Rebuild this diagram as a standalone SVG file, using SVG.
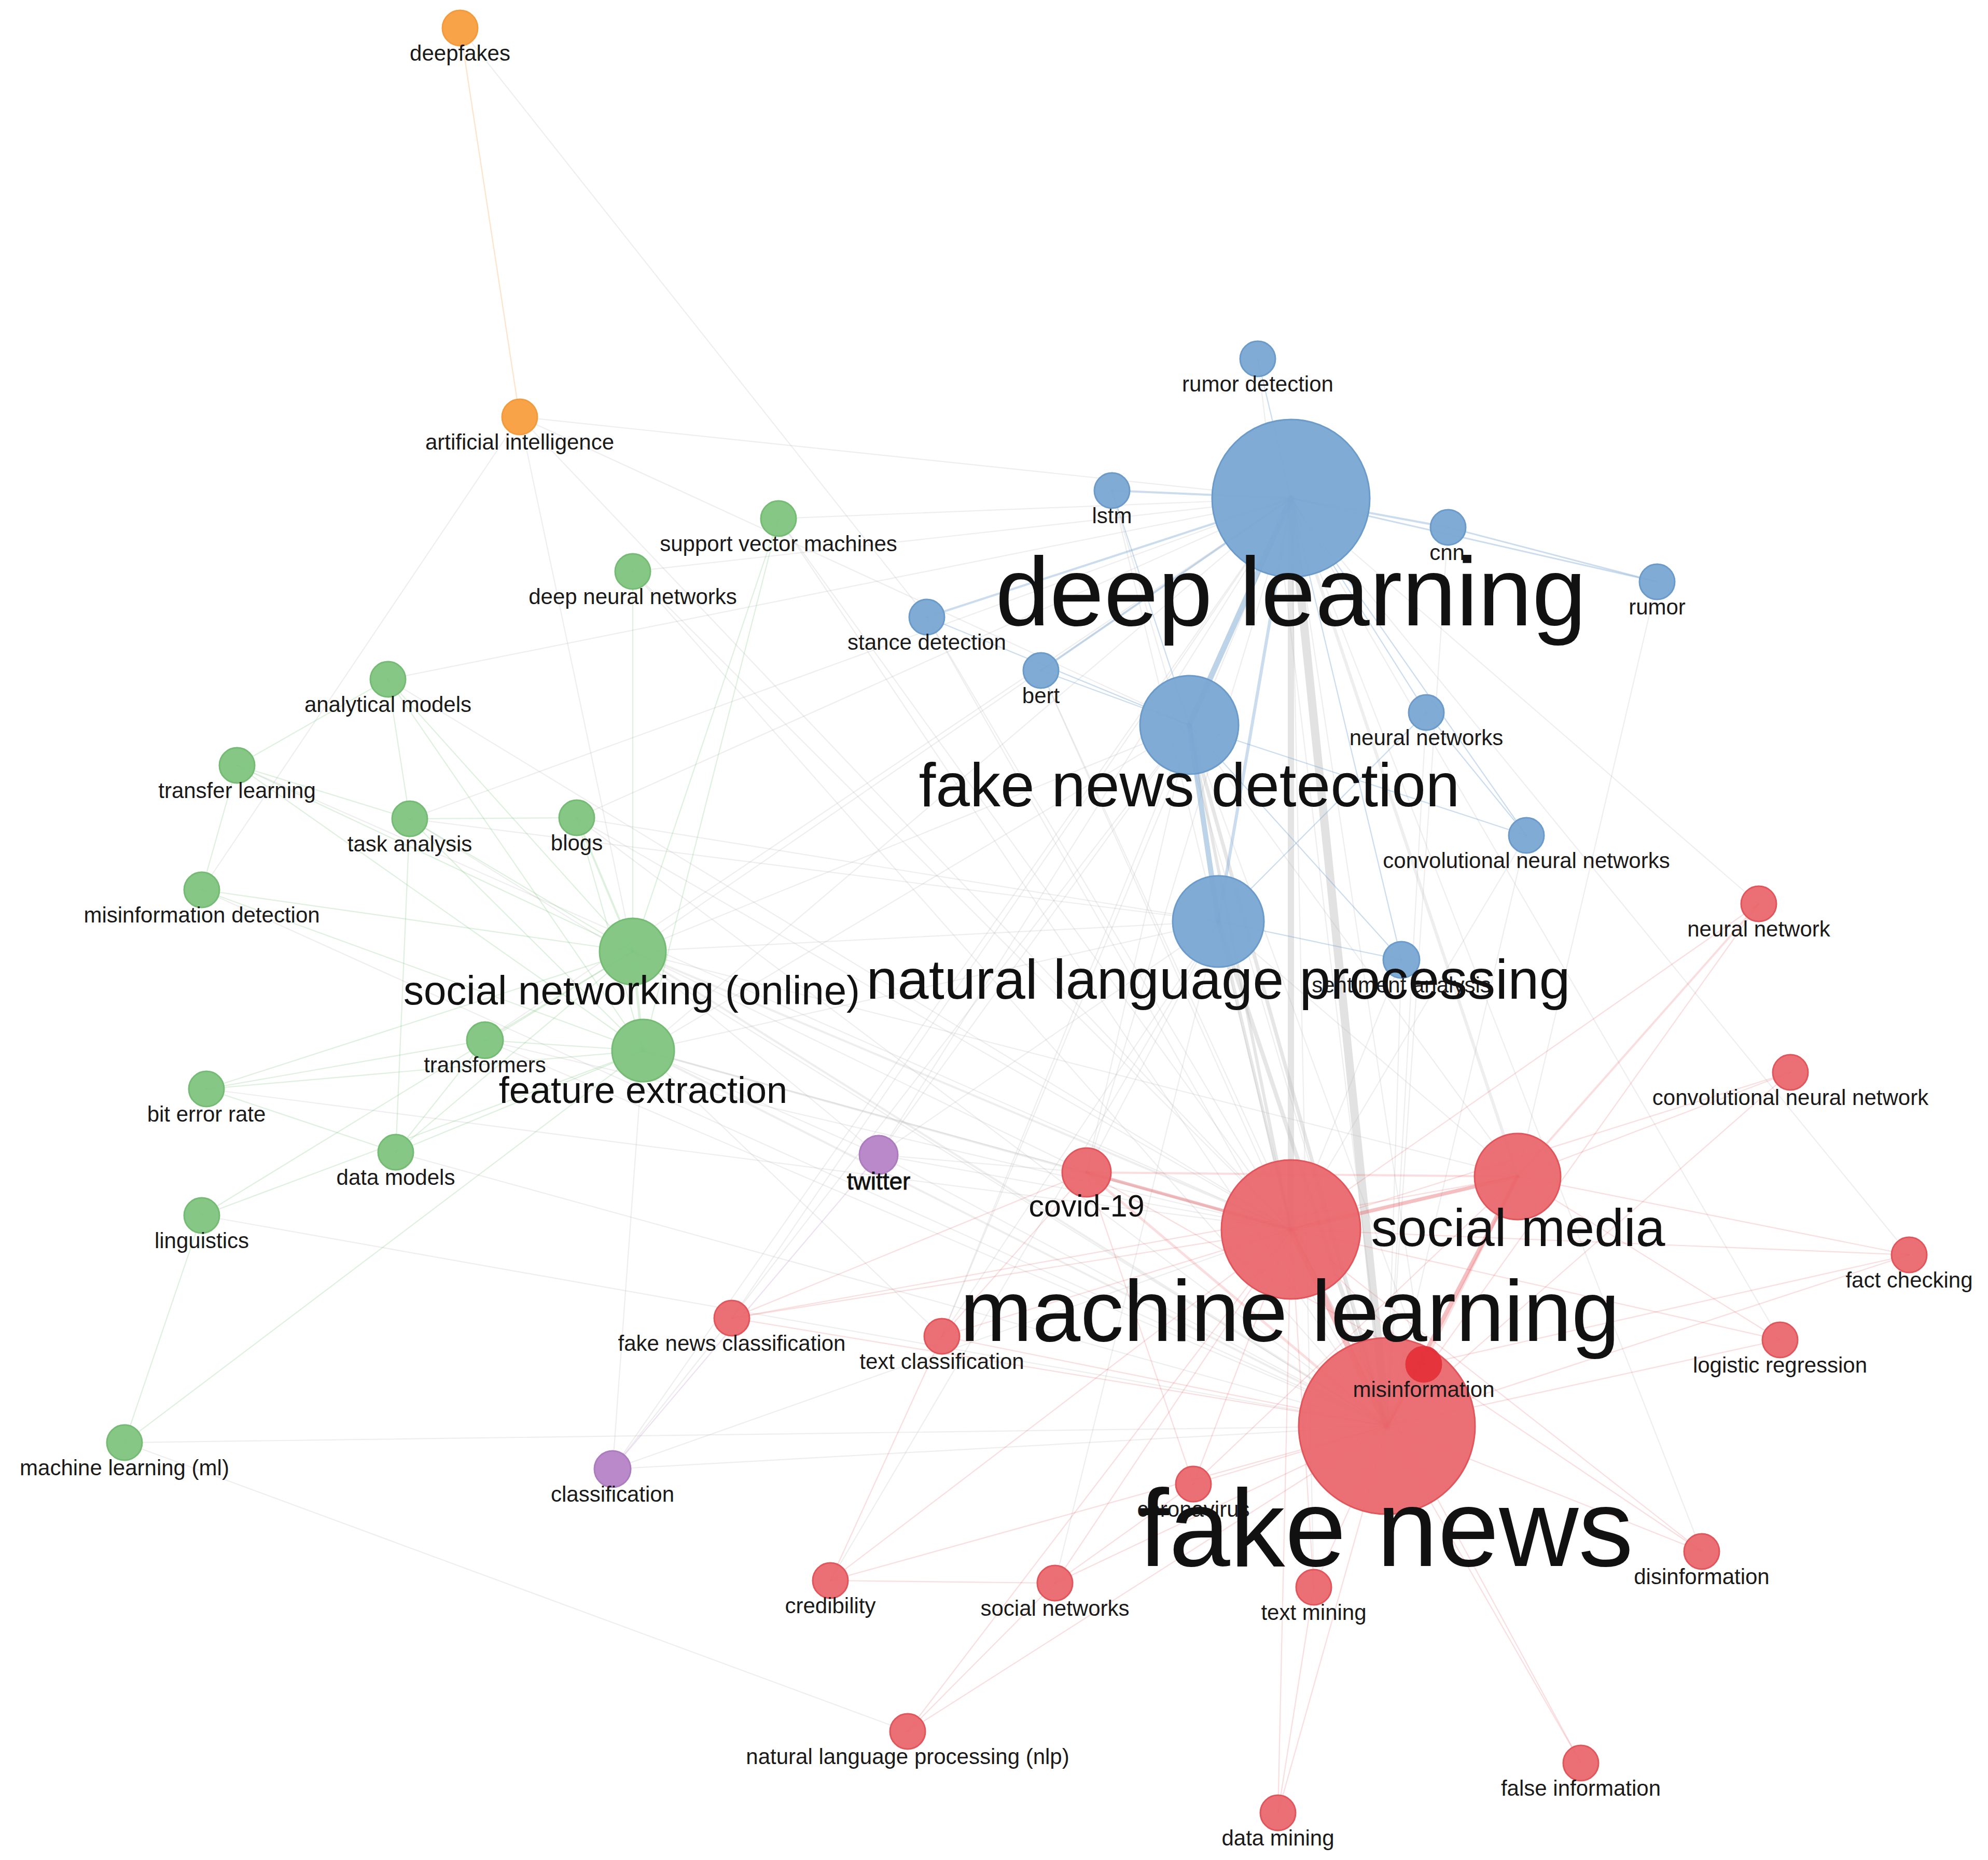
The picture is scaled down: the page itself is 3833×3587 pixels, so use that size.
<svg xmlns="http://www.w3.org/2000/svg" width="3833" height="3587" viewBox="0 0 3833 3587">
<style>
.bg{fill:#ffffff}
.e line{stroke-linecap:round}
.g line{stroke:#b9b9b9;stroke-opacity:.24;stroke-width:2.2}
.r line{stroke:#e8636a;stroke-opacity:.22;stroke-width:2.2}
.b line{stroke:#7aa7d1;stroke-opacity:.4;stroke-width:2.2}
.gr line{stroke:#80c47f;stroke-opacity:.26;stroke-width:2.2}
.o line{stroke:#f9a349;stroke-opacity:.3;stroke-width:2.2}
.p line{stroke:#b989c9;stroke-opacity:.25;stroke-width:2.2}
.nb{fill:#79a6d2;stroke:#6a9bcb;stroke-width:3;fill-opacity:.95}
.nr{fill:#ea656a;stroke:#e2555b;stroke-width:3;fill-opacity:.93}
.ng{fill:#80c47f;stroke:#74bb73;stroke-width:3;fill-opacity:.95}
.no{fill:#f9a349;stroke:#f39a3d;stroke-width:3}
.np{fill:#b989c9;stroke:#ad7bbf;stroke-width:3}
.nm{fill:#e4252e;fill-opacity:.8;stroke:#e2353c;stroke-width:3}
text{font-family:'Liberation Sans',Arial,sans-serif;fill:#111;text-anchor:middle}
.s{font-size:42px;fill:#1a1a1a}
</style>
<rect class="bg" x="0" y="0" width="3833" height="3587"/>
<g id="edges" class="e">
<g class="g">
<line x1="2489" y1="961" x2="1220" y2="1835"/>
<line x1="2489" y1="961" x2="1240" y2="2026"/>
<line x1="2489" y1="961" x2="1002" y2="804"/>
<line x1="2489" y1="961" x2="1501" y2="1000"/>
<line x1="2489" y1="961" x2="1220" y2="1102"/>
<line x1="2489" y1="961" x2="790" y2="1579"/>
<line x1="2489" y1="961" x2="1112" y2="1577"/>
<line x1="2489" y1="961" x2="1694" y2="2227"/>
<line x1="2489" y1="961" x2="2095" y2="2261"/>
<line x1="2489" y1="961" x2="2926" y2="2269" style="stroke-width:6"/>
<line x1="2489" y1="961" x2="1816" y2="2577"/>
<line x1="2489" y1="961" x2="1411" y2="2542"/>
<line x1="2489" y1="961" x2="2745" y2="2631"/>
<line x1="2489" y1="961" x2="2533" y2="3061"/>
<line x1="2489" y1="961" x2="3391" y2="1743"/>
<line x1="2489" y1="961" x2="3681" y2="2420"/>
<line x1="2489" y1="961" x2="3432" y2="2584"/>
<line x1="2489" y1="961" x2="3281" y2="2992"/>
<line x1="2489" y1="961" x2="748" y2="1310"/>
<line x1="2489" y1="961" x2="935" y2="2006"/>
<line x1="2489" y1="961" x2="1181" y2="2833"/>
<line x1="2489" y1="961" x2="2489" y2="2371" style="stroke-width:12;stroke-opacity:.38"/>
<line x1="2489" y1="961" x2="2674" y2="2750" style="stroke-width:16;stroke-opacity:.42"/>
<line x1="2293" y1="1398" x2="1220" y2="1835"/>
<line x1="2293" y1="1398" x2="1240" y2="2026"/>
<line x1="2293" y1="1398" x2="2489" y2="2371" style="stroke-width:6;stroke-opacity:.36"/>
<line x1="2293" y1="1398" x2="2674" y2="2750" style="stroke-width:7;stroke-opacity:.36"/>
<line x1="2293" y1="1398" x2="2926" y2="2269"/>
<line x1="2293" y1="1398" x2="2095" y2="2261"/>
<line x1="2293" y1="1398" x2="1694" y2="2227"/>
<line x1="2293" y1="1398" x2="1002" y2="804"/>
<line x1="2293" y1="1398" x2="2745" y2="2631"/>
<line x1="2293" y1="1398" x2="1816" y2="2577"/>
<line x1="2293" y1="1398" x2="1411" y2="2542"/>
<line x1="2349" y1="1777" x2="1220" y2="1835"/>
<line x1="2349" y1="1777" x2="1240" y2="2026"/>
<line x1="2349" y1="1777" x2="2489" y2="2371" style="stroke-width:6;stroke-opacity:.36"/>
<line x1="2349" y1="1777" x2="2674" y2="2750" style="stroke-width:8;stroke-opacity:.36"/>
<line x1="2349" y1="1777" x2="2926" y2="2269"/>
<line x1="2349" y1="1777" x2="2095" y2="2261"/>
<line x1="2349" y1="1777" x2="1694" y2="2227"/>
<line x1="2349" y1="1777" x2="1816" y2="2577"/>
<line x1="2349" y1="1777" x2="2034" y2="3053"/>
<line x1="2349" y1="1777" x2="1601" y2="3048"/>
<line x1="2349" y1="1777" x2="1112" y2="1577"/>
<line x1="2349" y1="1777" x2="790" y2="1579"/>
<line x1="1220" y1="1835" x2="2489" y2="2371" style="stroke-width:4"/>
<line x1="1220" y1="1835" x2="2674" y2="2750" style="stroke-width:4"/>
<line x1="1220" y1="1835" x2="2926" y2="2269"/>
<line x1="1220" y1="1835" x2="2095" y2="2261"/>
<line x1="1220" y1="1835" x2="1694" y2="2227"/>
<line x1="1240" y1="2026" x2="2489" y2="2371" style="stroke-width:4"/>
<line x1="1240" y1="2026" x2="2674" y2="2750" style="stroke-width:4"/>
<line x1="1240" y1="2026" x2="1181" y2="2833"/>
<line x1="1240" y1="2026" x2="1694" y2="2227"/>
<line x1="1240" y1="2026" x2="2095" y2="2261"/>
<line x1="1240" y1="2026" x2="1816" y2="2577"/>
<line x1="1694" y1="2227" x2="2674" y2="2750"/>
<line x1="1694" y1="2227" x2="2489" y2="2371"/>
<line x1="1694" y1="2227" x2="2095" y2="2261"/>
<line x1="1181" y1="2833" x2="2674" y2="2750"/>
<line x1="1181" y1="2833" x2="2489" y2="2371"/>
<line x1="1181" y1="2833" x2="1411" y2="2542"/>
<line x1="240" y1="2782" x2="2674" y2="2750"/>
<line x1="240" y1="2782" x2="1750" y2="3339"/>
<line x1="1501" y1="1000" x2="2489" y2="2371"/>
<line x1="1501" y1="1000" x2="2674" y2="2750"/>
<line x1="1220" y1="1102" x2="2674" y2="2750"/>
<line x1="1220" y1="1102" x2="2489" y2="2371"/>
<line x1="748" y1="1310" x2="2489" y2="2371"/>
<line x1="1112" y1="1577" x2="2674" y2="2750"/>
<line x1="1112" y1="1577" x2="2489" y2="2371"/>
<line x1="935" y1="2006" x2="2674" y2="2750"/>
<line x1="935" y1="2006" x2="2489" y2="2371"/>
<line x1="2007" y1="1293" x2="2489" y2="2371"/>
<line x1="2007" y1="1293" x2="2674" y2="2750"/>
<line x1="1787" y1="1190" x2="2674" y2="2750"/>
<line x1="1787" y1="1190" x2="2489" y2="2371"/>
<line x1="2144" y1="946" x2="2674" y2="2750"/>
<line x1="2144" y1="946" x2="2489" y2="2371"/>
<line x1="2792" y1="1017" x2="2674" y2="2750"/>
<line x1="3195" y1="1122" x2="2926" y2="2269"/>
<line x1="2750" y1="1374" x2="2674" y2="2750"/>
<line x1="2943" y1="1611" x2="2674" y2="2750"/>
<line x1="2943" y1="1611" x2="2489" y2="2371"/>
<line x1="2702" y1="1851" x2="2674" y2="2750"/>
<line x1="2702" y1="1851" x2="2489" y2="2371"/>
<line x1="2425" y1="692" x2="2674" y2="2750"/>
<line x1="1002" y1="804" x2="389" y2="1716"/>
<line x1="1002" y1="804" x2="2489" y2="2371"/>
<line x1="1002" y1="804" x2="1220" y2="1835"/>
<line x1="887" y1="54" x2="1787" y2="1190"/>
<line x1="389" y1="1716" x2="2674" y2="2750"/>
<line x1="790" y1="1579" x2="2674" y2="2750"/>
<line x1="389" y1="2344" x2="2674" y2="2750"/>
<line x1="763" y1="2222" x2="2674" y2="2750"/>
<line x1="398" y1="2100" x2="2489" y2="2371"/>
<line x1="457" y1="1476" x2="2489" y2="2371"/>
</g>
<g class="r">
<line x1="2674" y1="2750" x2="3391" y2="1743"/>
<line x1="2674" y1="2750" x2="3452" y2="2068"/>
<line x1="2674" y1="2750" x2="2095" y2="2261" style="stroke-width:5"/>
<line x1="2674" y1="2750" x2="2926" y2="2269" style="stroke-width:8;stroke-opacity:.42"/>
<line x1="2674" y1="2750" x2="2489" y2="2371" style="stroke-width:11;stroke-opacity:.42"/>
<line x1="2674" y1="2750" x2="2745" y2="2631" style="stroke-width:4"/>
<line x1="2674" y1="2750" x2="2301" y2="2862"/>
<line x1="2674" y1="2750" x2="3681" y2="2420"/>
<line x1="2674" y1="2750" x2="3432" y2="2584"/>
<line x1="2674" y1="2750" x2="1411" y2="2542"/>
<line x1="2674" y1="2750" x2="1816" y2="2577"/>
<line x1="2674" y1="2750" x2="3281" y2="2992"/>
<line x1="2674" y1="2750" x2="1601" y2="3048"/>
<line x1="2674" y1="2750" x2="2034" y2="3053"/>
<line x1="2674" y1="2750" x2="2533" y2="3061"/>
<line x1="2674" y1="2750" x2="1750" y2="3339"/>
<line x1="2674" y1="2750" x2="3048" y2="3400"/>
<line x1="2674" y1="2750" x2="2464" y2="3496"/>
<line x1="2489" y1="2371" x2="2926" y2="2269" style="stroke-width:7;stroke-opacity:.42"/>
<line x1="2489" y1="2371" x2="2095" y2="2261" style="stroke-width:6;stroke-opacity:.42"/>
<line x1="2489" y1="2371" x2="1411" y2="2542"/>
<line x1="2489" y1="2371" x2="1816" y2="2577"/>
<line x1="2489" y1="2371" x2="3681" y2="2420"/>
<line x1="2489" y1="2371" x2="3391" y2="1743"/>
<line x1="2489" y1="2371" x2="3452" y2="2068"/>
<line x1="2489" y1="2371" x2="3432" y2="2584"/>
<line x1="2489" y1="2371" x2="3281" y2="2992"/>
<line x1="2489" y1="2371" x2="1601" y2="3048"/>
<line x1="2489" y1="2371" x2="2034" y2="3053"/>
<line x1="2489" y1="2371" x2="2533" y2="3061"/>
<line x1="2489" y1="2371" x2="1750" y2="3339"/>
<line x1="2489" y1="2371" x2="2464" y2="3496"/>
<line x1="2489" y1="2371" x2="3048" y2="3400"/>
<line x1="2489" y1="2371" x2="2301" y2="2862"/>
<line x1="2489" y1="2371" x2="2745" y2="2631"/>
<line x1="2926" y1="2269" x2="3391" y2="1743" style="stroke-width:4"/>
<line x1="2926" y1="2269" x2="2095" y2="2261" style="stroke-width:4"/>
<line x1="2926" y1="2269" x2="3681" y2="2420"/>
<line x1="2926" y1="2269" x2="3452" y2="2068"/>
<line x1="2926" y1="2269" x2="2745" y2="2631" style="stroke-width:5"/>
<line x1="2926" y1="2269" x2="2301" y2="2862"/>
<line x1="2926" y1="2269" x2="1411" y2="2542"/>
<line x1="2926" y1="2269" x2="3432" y2="2584"/>
<line x1="2095" y1="2261" x2="2745" y2="2631"/>
<line x1="2095" y1="2261" x2="2301" y2="2862"/>
<line x1="2095" y1="2261" x2="1411" y2="2542"/>
<line x1="2095" y1="2261" x2="1816" y2="2577"/>
<line x1="1601" y1="3048" x2="2034" y2="3053"/>
<line x1="1750" y1="3339" x2="2034" y2="3053"/>
<line x1="2464" y1="3496" x2="2533" y2="3061"/>
<line x1="2301" y1="2862" x2="2034" y2="3053"/>
<line x1="1816" y1="2577" x2="1601" y2="3048"/>
<line x1="2745" y1="2631" x2="3681" y2="2420"/>
<line x1="2745" y1="2631" x2="3281" y2="2992"/>
</g>
<g class="b">
<line x1="2489" y1="961" x2="2293" y2="1398" style="stroke-width:11;stroke-opacity:.5"/>
<line x1="2489" y1="961" x2="2349" y2="1777" style="stroke-width:6"/>
<line x1="2293" y1="1398" x2="2349" y2="1777" style="stroke-width:10;stroke-opacity:.5"/>
<line x1="2489" y1="961" x2="2425" y2="692"/>
<line x1="2489" y1="961" x2="2144" y2="946" style="stroke-width:4"/>
<line x1="2489" y1="961" x2="2792" y2="1017" style="stroke-width:4"/>
<line x1="2489" y1="961" x2="3195" y2="1122" style="stroke-width:3"/>
<line x1="2489" y1="961" x2="1787" y2="1190" style="stroke-width:4"/>
<line x1="2489" y1="961" x2="2007" y2="1293" style="stroke-width:4"/>
<line x1="2489" y1="961" x2="2750" y2="1374"/>
<line x1="2489" y1="961" x2="2943" y2="1611"/>
<line x1="2489" y1="961" x2="2702" y2="1851"/>
<line x1="2792" y1="1017" x2="3195" y2="1122" style="stroke-width:3"/>
<line x1="2293" y1="1398" x2="2007" y2="1293"/>
<line x1="2293" y1="1398" x2="1787" y2="1190"/>
<line x1="2349" y1="1777" x2="2702" y2="1851"/>
<line x1="2293" y1="1398" x2="2702" y2="1851"/>
<line x1="2349" y1="1777" x2="2750" y2="1374"/>
<line x1="2293" y1="1398" x2="2943" y2="1611"/>
<line x1="2144" y1="946" x2="2293" y2="1398"/>
<line x1="2750" y1="1374" x2="2943" y2="1611"/>
</g>
<g class="gr">
<line x1="1220" y1="1835" x2="1240" y2="2026" style="stroke-width:5"/>
<line x1="1220" y1="1835" x2="1112" y2="1577" style="stroke-width:4"/>
<line x1="1220" y1="1835" x2="1501" y2="1000"/>
<line x1="1220" y1="1835" x2="1220" y2="1102"/>
<line x1="1220" y1="1835" x2="790" y2="1579"/>
<line x1="1220" y1="1835" x2="457" y2="1476"/>
<line x1="1220" y1="1835" x2="389" y2="1716"/>
<line x1="1220" y1="1835" x2="748" y2="1310"/>
<line x1="1220" y1="1835" x2="935" y2="2006"/>
<line x1="1220" y1="1835" x2="398" y2="2100"/>
<line x1="1220" y1="1835" x2="763" y2="2222"/>
<line x1="1220" y1="1835" x2="389" y2="2344"/>
<line x1="1240" y1="2026" x2="1112" y2="1577"/>
<line x1="1240" y1="2026" x2="1501" y2="1000"/>
<line x1="1240" y1="2026" x2="790" y2="1579"/>
<line x1="1240" y1="2026" x2="935" y2="2006"/>
<line x1="1240" y1="2026" x2="398" y2="2100"/>
<line x1="1240" y1="2026" x2="763" y2="2222"/>
<line x1="1240" y1="2026" x2="389" y2="2344"/>
<line x1="1240" y1="2026" x2="240" y2="2782"/>
<line x1="1240" y1="2026" x2="748" y2="1310"/>
<line x1="1240" y1="2026" x2="457" y2="1476"/>
<line x1="1240" y1="2026" x2="389" y2="1716"/>
<line x1="790" y1="1579" x2="748" y2="1310"/>
<line x1="790" y1="1579" x2="457" y2="1476"/>
<line x1="457" y1="1476" x2="748" y2="1310"/>
<line x1="398" y1="2100" x2="763" y2="2222"/>
<line x1="389" y1="2344" x2="240" y2="2782"/>
<line x1="935" y1="2006" x2="398" y2="2100"/>
<line x1="935" y1="2006" x2="763" y2="2222"/>
<line x1="790" y1="1579" x2="1112" y2="1577"/>
<line x1="389" y1="1716" x2="457" y2="1476"/>
<line x1="790" y1="1579" x2="763" y2="2222"/>
</g>
<g class="o"><line x1="887" y1="54" x2="1002" y2="804"/></g>
<g class="p"><line x1="1694" y1="2227" x2="1181" y2="2833"/></g>
</g>
<g id="n-deepfakes"><circle class="no" cx="887" cy="54" r="34"/><text class="s" x="887" y="117">deepfakes</text></g>
<g id="n-artificial-intelligence"><circle class="no" cx="1002" cy="804" r="34"/><text class="s" x="1002" y="867">artificial intelligence</text></g>
<g id="n-rumor-detection"><circle class="nb" cx="2425" cy="692" r="34"/><text class="s" x="2425" y="755">rumor detection</text></g>
<g id="n-lstm"><circle class="nb" cx="2144" cy="946" r="34"/><text class="s" x="2144" y="1009">lstm</text></g>
<g id="n-cnn"><circle class="nb" cx="2792" cy="1017" r="34"/><text class="s" x="2790" y="1080">cnn</text><rect x="2826" y="1070" width="8" height="12" fill="#111"/></g>
<g id="n-rumor"><circle class="nb" cx="3195" cy="1122" r="34"/><text class="s" x="3195" y="1185">rumor</text></g>
<g id="n-stance-detection"><circle class="nb" cx="1787" cy="1190" r="34"/><text class="s" x="1787" y="1253">stance detection</text></g>
<g id="n-bert"><circle class="nb" cx="2007" cy="1293" r="34"/><text class="s" x="2007" y="1356">bert</text></g>
<g id="n-neural-networks"><circle class="nb" cx="2750" cy="1374" r="34"/><text class="s" x="2750" y="1437">neural networks</text></g>
<g id="n-convolutional-neural-networks"><circle class="nb" cx="2943" cy="1611" r="34"/><text class="s" x="2943" y="1674">convolutional neural networks</text></g>
<g id="n-sentiment-analysis"><circle class="nb" cx="2702" cy="1851" r="35"/><text class="s" x="2702" y="1914">sentiment analysis</text></g>
<g id="n-support-vector-machines"><circle class="ng" cx="1501" cy="1000" r="34"/><text class="s" x="1501" y="1063">support vector machines</text></g>
<g id="n-deep-neural-networks"><circle class="ng" cx="1220" cy="1102" r="34"/><text class="s" x="1220" y="1165">deep neural networks</text></g>
<g id="n-analytical-models"><circle class="ng" cx="748" cy="1310" r="34"/><text class="s" x="748" y="1373">analytical models</text></g>
<g id="n-transfer-learning"><circle class="ng" cx="457" cy="1476" r="34"/><text class="s" x="457" y="1539">transfer learning</text></g>
<g id="n-task-analysis"><circle class="ng" cx="790" cy="1579" r="34"/><text class="s" x="790" y="1642">task analysis</text></g>
<g id="n-blogs"><circle class="ng" cx="1112" cy="1577" r="34"/><text class="s" x="1112" y="1640">blogs</text></g>
<g id="n-misinformation-detection"><circle class="ng" cx="389" cy="1716" r="34"/><text class="s" x="389" y="1779">misinformation detection</text></g>
<g id="n-transformers"><circle class="ng" cx="935" cy="2006" r="35"/><text class="s" x="935" y="2068">transformers</text></g>
<g id="n-bit-error-rate"><circle class="ng" cx="398" cy="2100" r="34"/><text class="s" x="398" y="2163">bit error rate</text></g>
<g id="n-data-models"><circle class="ng" cx="763" cy="2222" r="34"/><text class="s" x="763" y="2285">data models</text></g>
<g id="n-linguistics"><circle class="ng" cx="389" cy="2344" r="34"/><text class="s" x="389" y="2407">linguistics</text></g>
<g id="n-machine-learning-ml"><circle class="ng" cx="240" cy="2782" r="34"/><text class="s" x="240" y="2845">machine learning (ml)</text></g>
<g id="n-twitter"><circle class="np" cx="1694" cy="2227" r="37"/><text x="1694" y="2294" style="font-size:46px;stroke:#111;stroke-width:.8">twitter</text></g>
<g id="n-classification"><circle class="np" cx="1181" cy="2833" r="35"/><text class="s" x="1181" y="2896">classification</text></g>
<g id="n-neural-network"><circle class="nr" cx="3391" cy="1743" r="34"/><text class="s" x="3391" y="1806">neural network</text></g>
<g id="n-convolutional-neural-network"><circle class="nr" cx="3452" cy="2068" r="34"/><text class="s" x="3452" y="2131">convolutional neural network</text></g>
<g id="n-fact-checking"><circle class="nr" cx="3681" cy="2420" r="34"/><text class="s" x="3681" y="2483">fact checking</text></g>
<g id="n-logistic-regression"><circle class="nr" cx="3432" cy="2584" r="34"/><text class="s" x="3432" y="2647">logistic regression</text></g>
<g id="n-fake-news-classification"><circle class="nr" cx="1411" cy="2542" r="34"/><text class="s" x="1411" y="2605">fake news classification</text></g>
<g id="n-text-classification"><circle class="nr" cx="1816" cy="2577" r="34"/><text class="s" x="1816" y="2640">text classification</text></g>
<g id="n-coronavirus"><circle class="nr" cx="2301" cy="2862" r="34"/><text class="s" x="2301" y="2925">coronavirus</text></g>
<g id="n-disinformation"><circle class="nr" cx="3281" cy="2992" r="34"/><text class="s" x="3281" y="3055">disinformation</text></g>
<g id="n-credibility"><circle class="nr" cx="1601" cy="3048" r="34"/><text class="s" x="1601" y="3111">credibility</text></g>
<g id="n-social-networks"><circle class="nr" cx="2034" cy="3053" r="34"/><text class="s" x="2034" y="3116">social networks</text></g>
<g id="n-text-mining"><circle class="nr" cx="2533" cy="3061" r="34"/><text class="s" x="2533" y="3124">text mining</text></g>
<g id="n-nlp"><circle class="nr" cx="1750" cy="3339" r="34"/><text class="s" x="1750" y="3402">natural language processing (nlp)</text></g>
<g id="n-false-information"><circle class="nr" cx="3048" cy="3400" r="34"/><text class="s" x="3048" y="3463">false information</text></g>
<g id="n-data-mining"><circle class="nr" cx="2464" cy="3496" r="34"/><text class="s" x="2464" y="3559">data mining</text></g>
<g id="n-covid-19"><circle class="nr" cx="2095" cy="2261" r="47"/><text x="2095" y="2346" style="font-size:59px">covid-19</text></g>
<g id="n-feature-extraction"><circle class="ng" cx="1240" cy="2026" r="60"/><text x="1240" y="2127" style="font-size:72px">feature extraction</text></g>
<g id="n-social-networking-online"><circle class="ng" cx="1220" cy="1835" r="64"/><text x="1218" y="1937" style="font-size:78px">social networking (online)</text></g>
<g id="n-natural-language-processing"><circle class="nb" cx="2349" cy="1777" r="88"/><text x="2349" y="1926" style="font-size:108px">natural language processing</text></g>
<g id="n-fake-news-detection"><circle class="nb" cx="2293" cy="1398" r="95"/><text x="2293" y="1555" style="font-size:118px">fake news detection</text></g>
<g id="n-social-media"><circle class="nr" cx="2926" cy="2269" r="83"/><text x="2927" y="2403" style="font-size:102px">social media</text></g>
<g id="n-deep-learning"><circle class="nb" cx="2489" cy="961" r="152"/><text x="2489" y="1206" style="font-size:188px">deep learning</text></g>
<g id="n-fake-news"><circle class="nr" cx="2674" cy="2750" r="170"/><text x="2672" y="3020" style="font-size:212px">fake news</text></g>
<g id="n-misinformation"><circle class="nm" cx="2745" cy="2631" r="34"/><text class="s" x="2745" y="2694">misinformation</text></g>
<g id="n-machine-learning"><circle class="nr" cx="2489" cy="2371" r="134"/><text x="2487" y="2586" style="font-size:167px">machine learning</text></g>
</svg>
